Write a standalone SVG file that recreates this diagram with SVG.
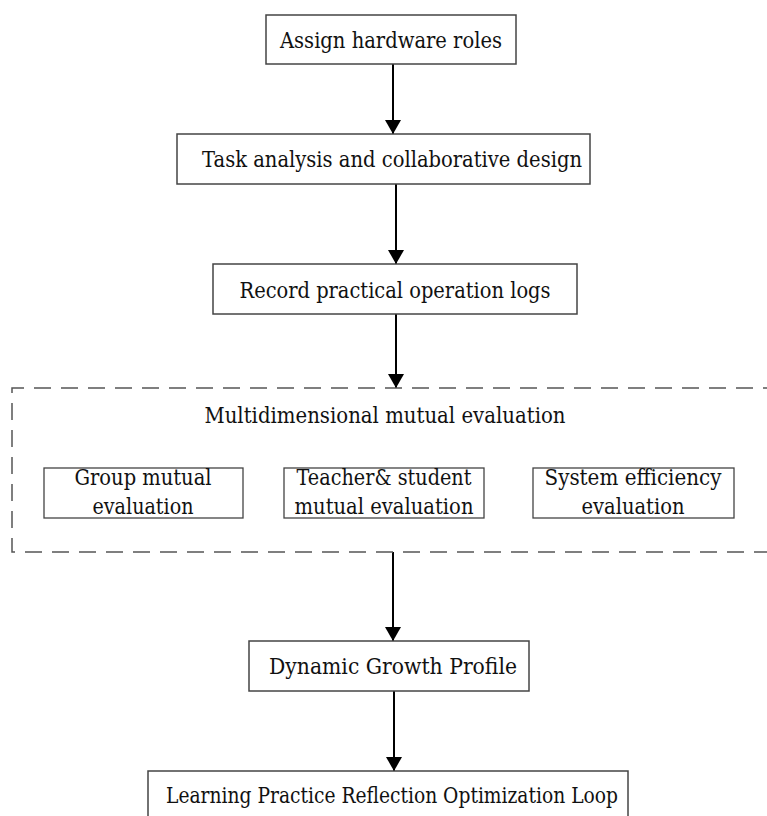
<svg xmlns="http://www.w3.org/2000/svg" width="767" height="816" viewBox="0 0 767 816">
<defs>
<marker id="ah" viewBox="0 0 14 16" markerWidth="14" markerHeight="16" refX="14" refY="8" orient="auto" markerUnits="userSpaceOnUse">
<path d="M0,0 L14,8 L0,16 z" fill="#000"/>
</marker>
<style>
.box{fill:#fff;stroke:#444;stroke-width:1.5}
.sub{fill:#fff;stroke:#444;stroke-width:1.3}
.dash{fill:none;stroke:#555;stroke-width:1.5;stroke-dasharray:17 10}
.t{font-family:'DejaVu Serif','Liberation Serif',serif;font-size:22px;fill:#111;text-anchor:middle}
.c{stroke:#000;stroke-width:2;fill:none;marker-end:url(#ah)}
</style>
</defs>
<rect width="767" height="816" fill="#fff"/>
<g id="connectors">
<line class="c" x1="393" y1="64" x2="393" y2="134"/>
<line class="c" x1="396" y1="184" x2="396" y2="264"/>
<line class="c" x1="396" y1="314" x2="396" y2="388"/>
<line class="c" x1="393" y1="552" x2="393" y2="641"/>
<line class="c" x1="394" y1="691" x2="394" y2="771"/>
</g>
<g id="n1"><rect class="box" x="266" y="15" width="250" height="49"/><text class="t" x="391" y="48" textLength="222" lengthAdjust="spacingAndGlyphs">Assign hardware roles</text></g>
<g id="n2"><rect class="box" x="177" y="134" width="413" height="50"/><text class="t" x="392" y="167" textLength="380" lengthAdjust="spacingAndGlyphs">Task analysis and collaborative design</text></g>
<g id="n3"><rect class="box" x="213" y="264" width="364" height="50"/><text class="t" x="395" y="298" textLength="311" lengthAdjust="spacingAndGlyphs">Record practical operation logs</text></g>
<g id="n4">
<path class="dash" d="M780,388 L12,388 L12,552 L780,552"/>
<text class="t" x="385" y="423" textLength="361" lengthAdjust="spacingAndGlyphs">Multidimensional mutual evaluation</text>
</g>
<g id="n4a"><rect class="sub" x="44" y="468" width="199" height="50"/><text class="t" x="143" y="485" textLength="137" lengthAdjust="spacingAndGlyphs">Group mutual</text><text class="t" x="143" y="514" textLength="101" lengthAdjust="spacingAndGlyphs">evaluation</text></g>
<g id="n4b"><rect class="sub" x="284" y="468" width="200" height="50"/><text class="t" x="384" y="485" textLength="175" lengthAdjust="spacingAndGlyphs">Teacher&amp; student</text><text class="t" x="384" y="514" textLength="179" lengthAdjust="spacingAndGlyphs">mutual evaluation</text></g>
<g id="n4c"><rect class="sub" x="533" y="468" width="201" height="50"/><text class="t" x="633" y="485" textLength="177" lengthAdjust="spacingAndGlyphs">System efficiency</text><text class="t" x="633" y="514" textLength="103" lengthAdjust="spacingAndGlyphs">evaluation</text></g>
<g id="n5"><rect class="box" x="249" y="641" width="280" height="50"/><text class="t" x="393" y="674" textLength="248" lengthAdjust="spacingAndGlyphs">Dynamic Growth Profile</text></g>
<g id="n6"><rect class="box" x="148" y="771" width="480" height="60"/><text class="t" x="392" y="803" textLength="452" lengthAdjust="spacingAndGlyphs">Learning Practice Reflection Optimization Loop</text></g>
</svg>
